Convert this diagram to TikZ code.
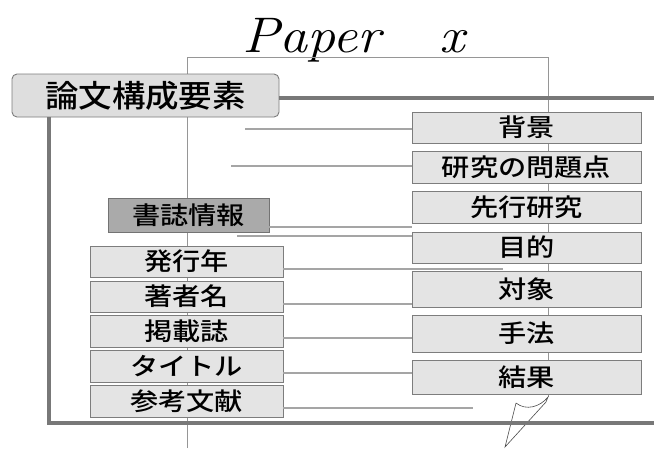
\documentclass[tikz,border=0pt]{standalone}
\usepackage{fontspec}
\newfontfamily\jp[FakeStretch=1.15]{Noto Sans CJK JP Medium}
\newfontfamily\jpbig[FakeStretch=1.08]{Noto Sans CJK JP Medium}
\definecolor{boxfill}{RGB}{228,228,228}
\definecolor{mainfill}{RGB}{222,222,222}
\definecolor{boxline}{RGB}{125,125,125}
\definecolor{darkfill}{RGB}{170,170,170}
\definecolor{frameline}{RGB}{120,120,120}
\definecolor{thinline}{RGB}{165,165,165}
\definecolor{paperline}{RGB}{150,150,150}
\tikzset{
  box/.style={draw=boxline, fill=boxfill, line width=0.9pt, inner sep=0pt,
    font=\jp\fontsize{24.5}{24.5}\selectfont},
  rbox/.style={box, minimum width=229pt},
  lbox/.style={box, minimum width=193pt},
  conn/.style={draw=thinline, line width=1.1pt},
  paper/.style={draw=paperline, line width=0.9pt},
  frame/.style={draw=frameline, line width=4.5pt},
  curl/.style={draw=black!70, line width=0.6pt}
}
\begin{document}
\begin{tikzpicture}[x=1pt,y=-1pt]
\useasboundingbox[fill=white] (0,0) rectangle (654,448);

% title
\node[font=\rmfamily\itshape\fontsize{50}{50}\selectfont, anchor=base west, inner sep=0pt,
  xscale=1.12, transform shape] (ttl) at (242,52) {Paper\hspace{52pt}x};

% paper outline
\coordinate (ptl) at (187,57);
\coordinate (ptr) at (548,57);
\coordinate (pbl) at (187,448);
\coordinate (pbr) at (548,397);
\path[paper] (pbl) -- (ptl) -- (ptr) -- (pbr);

% curl
\coordinate (c1) at (516,403);
\coordinate (c2) at (505,447);
\coordinate (c3) at (546,402);
\path[curl] (c1) .. controls (526,411) and (540,407) .. (pbr) -- (c3) -- (c2) -- (c1);

% main title box
\node[draw=boxline, fill=mainfill, line width=0.9pt, rounded corners=5pt,
  minimum width=267pt, minimum height=43pt, inner sep=0pt,
  font=\jpbig\fontsize{31}{31}\selectfont] (main) at (145.5,95.5) {論文構成要素};

% frame
\coordinate (fr) at (656,98);
\coordinate (fbl) at (49,423);
\coordinate (fbr) at (656,423);
\path[frame] (main.east |- 0,98) -- (fr);
\path[frame] (main.south -| fbl) -- (fbl) -- (fbr);

% right boxes
\node[rbox, minimum height=31pt] (haikei) at (526.5,127.5) {背景};
\node[rbox, minimum height=32pt] (mondai) at (526.5,167) {研究の問題点};
\node[rbox, minimum height=32pt] (senko) at (526.5,207) {先行研究};
\node[rbox, minimum height=31pt] (mokuteki) at (526.5,247.5) {目的};
\node[rbox, minimum height=36pt] (taisho) at (526.5,289) {対象};
\node[rbox, minimum height=37pt] (shuho) at (526.5,333.5) {手法};
\node[rbox, minimum height=34pt] (kekka) at (526.5,377) {結果};

% bibliographic info
\node[box, fill=darkfill, draw=black!55, minimum width=161pt, minimum height=34pt] (shoshi) at (188.5,215) {書誌情報};

% left boxes
\node[lbox, minimum height=31pt] (hakko) at (186.5,261.5) {発行年};
\node[lbox, minimum height=31pt] (chosha) at (186.5,296.5) {著者名};
\node[lbox, minimum height=32pt] (keisai) at (186.5,331) {掲載誌};
\node[lbox, minimum height=32pt] (title) at (186.5,366) {タイトル};
\node[lbox, minimum height=32pt] (sanko) at (186.5,401) {参考文献};

% free ends
\coordinate (e1) at (245,129);
\coordinate (e2) at (231,166);
\coordinate (e4) at (237,236);
\coordinate (e5) at (503,269);
\coordinate (e9) at (473,408);

% connectors
\path[conn] (e1) -- (e1 -| haikei.west);
\path[conn] (e2) -- (e2 -| mondai.west);
\path[conn] ([yshift=-12pt]shoshi.east) -- ([yshift=-12pt]shoshi.east -| senko.west);
\path[conn] (e4) -- (e4 -| mokuteki.west);
\path[conn] (hakko.east |- e5) -- (e5);
\path[conn] ([yshift=-7.5pt]chosha.east) -- ([yshift=-7.5pt]chosha.east -| taisho.west);
\path[conn] ([yshift=-7pt]keisai.east) -- ([yshift=-7pt]keisai.east -| shuho.west);
\path[conn] ([yshift=-7pt]title.east) -- ([yshift=-7pt]title.east -| kekka.west);
\path[conn] (sanko.east |- e9) -- (e9);
\end{tikzpicture}
\end{document}
